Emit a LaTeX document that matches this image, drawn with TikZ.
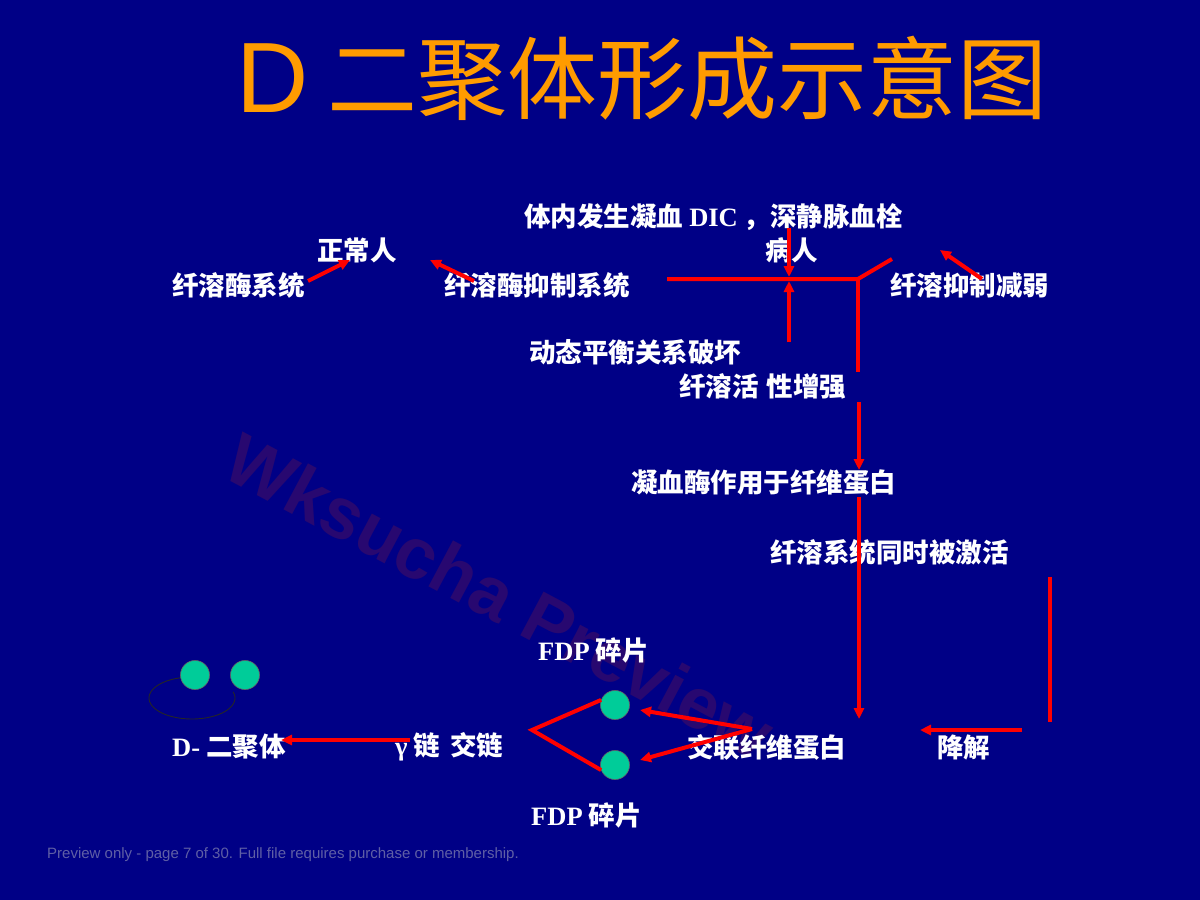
\documentclass[tikz,border=0pt]{standalone}
\usepackage{fontspec}
\setmainfont{Liberation Serif}
\newfontfamily\cjk{Noto Sans CJK SC}
\newfontfamily\lat{Liberation Serif}
\newfontfamily\arial{Liberation Sans}
\usetikzlibrary{arrows.meta}
\definecolor{bg}{RGB}{0,0,134}
\definecolor{ttl}{RGB}{255,155,0}
\definecolor{lnred}{RGB}{255,0,0}
\definecolor{ballc}{RGB}{0,204,153}
\definecolor{wmc}{RGB}{40,8,112}
\definecolor{footc}{RGB}{95,95,165}
\begin{document}
\begin{tikzpicture}[x=1pt,y=-1pt,
  lbl/.style={anchor=west,inner sep=0pt,text=white,font=\cjk\bfseries\fontsize{26.5}{30}\selectfont},
  redline/.style={draw=lnred,line width=4pt},
  redarrow/.style={redline,-{Triangle[length=11pt,width=10pt]}},
  ballnode/.style={circle,fill=ballc,draw=black!60,line width=0.6pt,minimum size=29pt,inner sep=0pt}]
\fill[bg] (0,0) rectangle (1200,900);
\useasboundingbox (0,0) rectangle (1200,900);

% watermark
\node[rotate=-28,text=wmc,inner sep=0pt,font=\arial\bfseries\fontsize{72}{80}\selectfont] (wm) at (500,596) {Wksucha Preview};

% title
\node[anchor=west,inner sep=0pt,text=ttl] (title) at (236,78)
  {\arial\fontsize{100}{110}\selectfont D\hspace{19pt}\cjk\fontsize{90}{110}\selectfont 二聚体形成示意图};

% texts
\node[lbl] (t1) at (524,217) {体内发生凝血 {\lat DIC} ，深静脉血栓};
\node[lbl] (bingren) at (765,250) {病人};
\node[lbl] (zcr) at (317,250) {正常人};
\node[lbl] (xrm) at (172,285) {纤溶酶系统};
\node[lbl] (xrmy) at (444,285) {纤溶酶抑制系统};
\node[lbl] (xryz) at (890,285) {纤溶抑制减弱};
\node[lbl] (dtph) at (529,352) {动态平衡关系破坏};
\node[lbl] (xrhx) at (679,386) {纤溶活\hspace{8pt}性增强};
\node[lbl] (nxm) at (631,483) {凝血酶作用于纤维蛋白};
\node[lbl] (xrxt) at (770,552) {纤溶系统同时被激活};
\node[lbl] (fdp1) at (538,650) {{\lat FDP} 碎片};
\node[lbl] (dd) at (172,747) {{\lat D-} 二聚体};
\node[lbl] (gl) at (395,747) {{\lat γ} 链\hspace{10pt}交链};
\node[lbl] (jl) at (687,747) {交联纤维蛋白};
\node[lbl] (jj) at (937,747) {降解};
\node[lbl] (fdp2) at (531,815) {{\lat FDP} 碎片};

% footer
\node[anchor=west,inner sep=0pt,text=footc,font=\arial\fontsize{15}{17}\selectfont] (foot) at (47,855)
  {Preview only - page 7 of 30. Full file requires purchase or membership.};

% coordinates
\coordinate (c1a) at (308,281); \coordinate (c1b) at (350,260);
\coordinate (c2a) at (474,281); \coordinate (c2b) at (430,260);
\coordinate (h1) at (667,279);  \coordinate (h2) at (858,279);
\coordinate (hd) at (892,259);  \coordinate (h3) at (858,372);
\coordinate (v1a) at (789,228); \coordinate (v1b) at (789,277);
\coordinate (v2a) at (789,342); \coordinate (v2b) at (789,281);
\coordinate (c3a) at (982,279); \coordinate (c3b) at (940,250);
\coordinate (v3a) at (859,402); \coordinate (v3b) at (859,470);
\coordinate (v4a) at (859,497); \coordinate (v4b) at (859,719);
\coordinate (r1) at (1050,577); \coordinate (r2) at (1050,722);
\coordinate (d1) at (1022,730); \coordinate (d2) at (920,730);
\coordinate (x0) at (752,729);  \coordinate (x1) at (640,710); \coordinate (x2) at (640,760);
\coordinate (y1) at (410,740);  \coordinate (y2) at (281,740);
\coordinate (vtx) at (532,730);

% red connectors
\draw[redarrow] (c1a) -- (c1b);
\draw[redarrow] (c2a) -- (c2b);
\draw[redline] (hd) -- (h2) -- (h1);
\draw[redline] (h2) -- (h3);
\draw[redarrow] (v1a) -- (v1b);
\draw[redarrow] (v2a) -- (v2b);
\draw[redarrow] (c3a) -- (c3b);
\draw[redarrow] (v3a) -- (v3b);
\draw[redarrow] (v4a) -- (v4b);
\draw[redline] (r1) -- (r2);
\draw[redarrow] (d1) -- (d2);
\draw[redarrow] (x0) -- (x1);
\draw[redarrow] (x0) -- (x2);
\draw[redarrow] (y1) -- (y2);

% FDP balls
\node[ballnode] (f1) at (615,705) {};
\node[ballnode] (f2) at (615,765) {};
\draw[redline,line join=miter] (f1.160) -- (vtx) -- (f2.200);

% D-dimer
\draw[black!85,line width=0.9pt] plot[domain=100:377,samples=60,smooth] ({192+43*cos(\x)},{698-21*sin(\x)});
\node[ballnode] (b1) at (195,675) {};
\node[ballnode] (b2) at (245,675) {};
\end{tikzpicture}
\end{document}
